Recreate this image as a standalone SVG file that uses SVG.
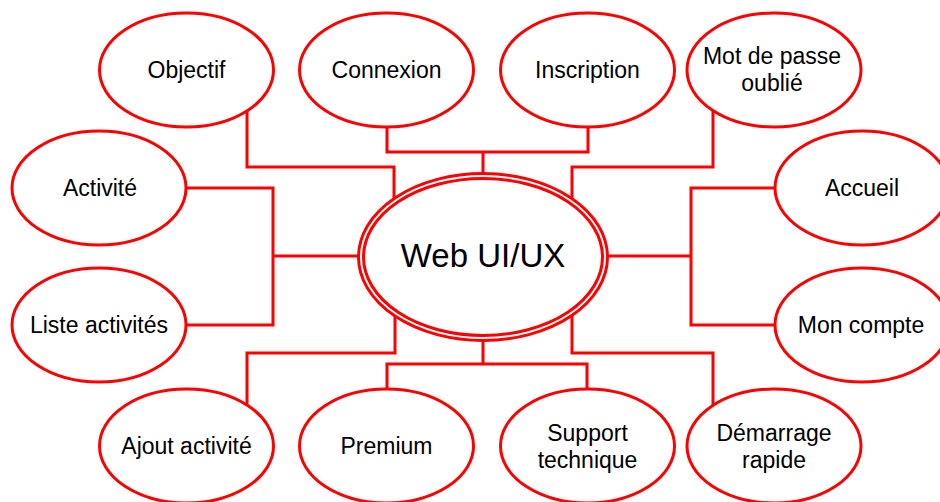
<svg xmlns="http://www.w3.org/2000/svg" width="940" height="502" viewBox="0 0 940 502">
<style>
.e{fill:#fff;stroke:#ff0000;stroke-width:3}
.c{fill:none;stroke:#ff0000;stroke-width:3}
.t{font-family:"Liberation Sans",Arial,sans-serif;font-size:23px;fill:#000;text-anchor:middle}
.tc{font-family:"Liberation Sans",Arial,sans-serif;font-size:33px;fill:#000;text-anchor:middle}
</style>
<rect width="940" height="502" fill="#fff"/>
<g id="connectors">
<path class="c" d="M247,105 V167 H394 V205"/>
<path class="c" d="M387,120 V152 H588 V120"/>
<path class="c" d="M483,152 V180"/>
<path class="c" d="M713,105 V167 H572 V205"/>
<path class="c" d="M780,188 H691 V325 H780"/>
<path class="c" d="M600,256 H691"/>
<path class="c" d="M180,188 H273 V325 H180"/>
<path class="c" d="M273,256 H365"/>
<path class="c" d="M247,410 V353 H395 V310"/>
<path class="c" d="M387,395 V364 H587 V395"/>
<path class="c" d="M483,335 V364"/>
<path class="c" d="M713,410 V353 H572 V310"/>
</g>
<g id="center">
<ellipse class="e" cx="483" cy="257" rx="124.5" ry="83.5"/>
<ellipse class="e" cx="483" cy="257" rx="119.5" ry="78.5"/>
<text class="tc" x="483" y="267">Web UI/UX</text>
</g>
<g id="objectif">
<ellipse class="e" cx="186.5" cy="70" rx="87" ry="57"/>
<text class="t" x="186.5" y="78">Objectif</text>
</g>
<g id="connexion">
<ellipse class="e" cx="386.5" cy="70" rx="87" ry="57"/>
<text class="t" x="386.5" y="78">Connexion</text>
</g>
<g id="inscription">
<ellipse class="e" cx="587.5" cy="70" rx="87" ry="57"/>
<text class="t" x="587.5" y="78">Inscription</text>
</g>
<g id="motdepasse">
<ellipse class="e" cx="774" cy="70" rx="87" ry="57"/>
<text class="t" x="772" y="64">Mot de passe</text>
<text class="t" x="772" y="91">oublié</text>
</g>
<g id="activite">
<ellipse class="e" cx="99" cy="188" rx="87" ry="57"/>
<text class="t" x="100" y="196">Activité</text>
</g>
<g id="listeactivites">
<ellipse class="e" cx="99" cy="325" rx="87" ry="57"/>
<text class="t" x="99" y="333">Liste activités</text>
</g>
<g id="accueil">
<ellipse class="e" cx="862" cy="188" rx="87" ry="57"/>
<text class="t" x="862" y="196">Accueil</text>
</g>
<g id="moncompte">
<ellipse class="e" cx="862" cy="325" rx="87" ry="57"/>
<text class="t" x="861" y="333">Mon compte</text>
</g>
<g id="ajout">
<ellipse class="e" cx="186.5" cy="446" rx="87" ry="57"/>
<text class="t" x="186.5" y="454">Ajout activité</text>
</g>
<g id="premium">
<ellipse class="e" cx="386.5" cy="446" rx="87" ry="57"/>
<text class="t" x="386.5" y="454">Premium</text>
</g>
<g id="support">
<ellipse class="e" cx="587.5" cy="446" rx="87" ry="57"/>
<text class="t" x="587.5" y="441">Support</text>
<text class="t" x="587.5" y="468">technique</text>
</g>
<g id="demarrage">
<ellipse class="e" cx="774" cy="446" rx="87" ry="57"/>
<text class="t" x="774" y="441">Démarrage</text>
<text class="t" x="774" y="468">rapide</text>
</g>
</svg>
